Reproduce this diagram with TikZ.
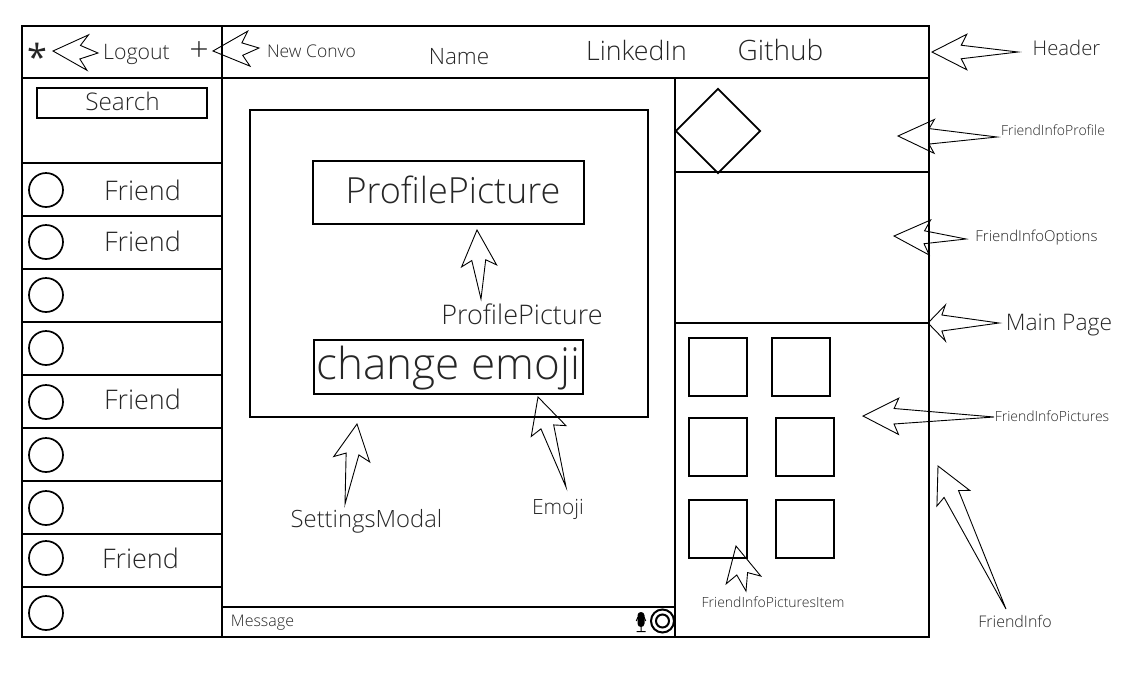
\documentclass[tikz,border=0pt]{standalone}
\usepackage{fontspec}
\setmainfont{Open Sans Light}
\newfontfamily\regularfont{Open Sans}
\usetikzlibrary{shapes.geometric, calc}
\tikzset{
  panel/.style={
    rectangle, draw=black, line width=2pt, inner sep=0pt, outer sep=0pt
  },
  rowbox/.style={panel, minimum width=200, minimum height=53},
  avatar/.style={
    circle, draw=black, line width=1.7pt, minimum size=34, inner sep=0pt
  },
  picbox/.style={panel, minimum width=58, minimum height=58},
  caption/.style={inner sep=0pt, text=black!85},
  friendtext/.style={caption, font=\fontsize{27}{32}\selectfont},
  calloutline/.style={line width=0.9pt, draw=black, line join=miter},
}
\newcommand{\callout}[6]{
  \draw [calloutline] (#1) -- ($(#1)!#3pt!#4:(#2)$) -- ($(#1)!#5pt!#6:(#2)$) -- (#2)
    -- ($(#1)!#5pt!-#6:(#2)$) -- ($(#1)!#3pt!-#4:(#2)$) -- cycle;
}
\begin{document}
\begin{tikzpicture}[x=1pt, y=-1pt]
  \useasboundingbox (0,0) rectangle (1122,673);

  \node (logoutbar) [panel, minimum width=200, minimum height=52] at (122,52) {};
  \node (topbar)    [panel, minimum width=707, minimum height=52] at (575.5,52) {};
  \node (searcharea) [panel, minimum width=200, minimum height=85] at (122,120.5) {};
  \node (searchbox) [panel, minimum width=170, minimum height=30] at (122,103) {};
  \node (searchtext) [caption, font=\fontsize{24.3}{28}\selectfont] at (122.5,101) {Search};

  \node (row1) [rowbox] at (122,189.5) {};
  \node (row2) [rowbox] at (122,242.5) {};
  \node (row3) [rowbox] at (122,295.5) {};
  \node (row4) [rowbox] at (122,348.5) {};
  \node (row5) [rowbox] at (122,401.5) {};
  \node (row6) [rowbox] at (122,454.5) {};
  \node (row7) [rowbox] at (122,507.5) {};
  \node (row8) [rowbox] at (122,560.5) {};
  \node (row9) [rowbox, minimum height=50] at (122,612) {};

  \node (avatar1) [avatar] at (46,190) {};
  \node (avatar2) [avatar] at (46,242) {};
  \node (avatar3) [avatar] at (46,295) {};
  \node (avatar4) [avatar] at (46,348) {};
  \node (avatar5) [avatar] at (46,402) {};
  \node (avatar6) [avatar] at (46,455) {};
  \node (avatar7) [avatar] at (46,508) {};
  \node (avatar8) [avatar] at (46,558) {};
  \node (avatar9) [avatar] at (46,613) {};

  \node (friend1) [friendtext] at (142.5,190) {Friend};
  \node (friend2) [friendtext] at (142.5,241) {Friend};
  \node (friend5) [friendtext] at (142.5,399) {Friend};
  \node (friend8) [friendtext] at (140.5,558) {Friend};

  \node (chatarea)   [panel, minimum width=453, minimum height=529] at (448.5,342.5) {};
  \node (messagebar) [panel, minimum width=453, minimum height=30] at (448.5,622) {};
  \node (modal)      [panel, minimum width=398, minimum height=307] at (449,263.5) {};
  \node (picturebtn) [panel, minimum width=271, minimum height=63] at (448.5,192.5) {};
  \node (picturetext) [caption, font=\fontsize{36}{42}\selectfont] at (453,190) {ProfilePicture};
  \node (emojibtn)   [panel, minimum width=269, minimum height=54] at (448.5,367) {};
  \node (emojitext)  [caption, font=\fontsize{44}{50}\selectfont] at (448.5,368) {change emoji};

  \node (infoprofile)  [panel, minimum width=254, minimum height=94] at (802,125) {};
  \node (infooptions)  [panel, minimum width=254, minimum height=151] at (802,247.5) {};
  \node (infopictures) [panel, minimum width=254, minimum height=314] at (802,480) {};
  \node (infoavatar)   [diamond, draw=black, line width=1.7pt, minimum width=85, minimum height=85, inner sep=0pt] at (718,131) {};

  \node (pic1) [picbox] at (718,367) {};
  \node (pic2) [picbox] at (801,367) {};
  \node (pic3) [picbox] at (718,447) {};
  \node (pic4) [picbox] at (805,447) {};
  \node (pic5) [picbox] at (718,529) {};
  \node (pic6) [picbox] at (805,529) {};

  \node (star) [caption, font=\regularfont\fontsize{36}{40}\selectfont] at (37,57) {*};
  \node (plus) [caption, font=\fontsize{34}{38}\selectfont] at (199,52) {+};
  \node (logout)   [caption, font=\fontsize{21.3}{26}\selectfont] at (136.5,54) {Logout};
  \node (newconvo) [caption, font=\fontsize{17.5}{20}\selectfont] at (311.5,51) {New Convo};
  \node (name)     [caption, font=\fontsize{22.5}{26}\selectfont] at (459,57) {Name};
  \node (linkedin) [caption, font=\fontsize{26.7}{30}\selectfont] at (636.5,50) {LinkedIn};
  \node (github)   [caption, font=\fontsize{28}{32}\selectfont] at (780.5,50) {Github};
  \node (message)  [caption, font=\fontsize{16}{18}\selectfont] at (262.5,623) {Message};

  \node (header)      [caption, font=\fontsize{20.3}{24}\selectfont] at (1066.5,48) {Header};
  \node (profilelbl)  [caption, font=\fontsize{14}{16}\selectfont] at (1053,130) {FriendInfoProfile};
  \node (optionslbl)  [caption, font=\fontsize{15}{17}\selectfont] at (1036.5,238) {FriendInfoOptions};
  \node (mainpage)    [caption, font=\fontsize{22.8}{26}\selectfont] at (1059,325) {Main Page};
  \node (pictureslbl) [caption, font=\fontsize{14}{17}\selectfont] at (1052,416) {FriendInfoPictures};
  \node (itemlbl)     [caption, font=\fontsize{14}{17}\selectfont] at (773,602) {FriendInfoPicturesItem};
  \node (friendinfo)  [caption, font=\fontsize{16}{20}\selectfont] at (1015,621) {FriendInfo};
  \node (picturelbl)  [caption, font=\fontsize{27}{30}\selectfont] at (522,314) {ProfilePicture};
  \node (settingslbl) [caption, font=\fontsize{23.8}{28}\selectfont] at (366.5,521) {SettingsModal};
  \node (emojilbl)    [caption, font=\fontsize{21}{26}\selectfont] at (558,509) {Emoji};

  \node (micbody) [rectangle, fill=black, rounded corners=3.4pt, minimum width=7, minimum height=15, inner sep=0pt] at (641,619.5) {};
  \draw [line width=1pt] (636.3,621) arc [start angle=180, end angle=360, radius=4.7] (641,625.7) -- (641,631) (636.5,631.5) -- (645.5,631.5);
  \node (recordout) [circle, draw=black, line width=2pt, minimum size=23, inner sep=0pt] at (662.5,621) {};
  \node (recordin)  [circle, draw=black, line width=2pt, minimum size=13, inner sep=0pt] at (662.5,621) {};

  \coordinate (logouttip) at (53,51);
  \coordinate (logouttail) at (98,53);
  \coordinate (convotip) at (213,51);
  \coordinate (convotail) at (259,48);
  \coordinate (headertip) at (932,52);
  \coordinate (headertail) at (1018,52);
  \coordinate (profiletip) at (898,136);
  \coordinate (profiletail) at (997,137);
  \coordinate (optionstip) at (894,236);
  \coordinate (optionstail) at (966,239);
  \coordinate (maintip) at (928,323);
  \coordinate (maintail) at (999,323);
  \coordinate (picturestip) at (863,416);
  \coordinate (picturestail) at (994,417);
  \coordinate (infotip) at (938,466);
  \coordinate (infotail) at (1006,609);
  \coordinate (itemtip) at (736,546);
  \coordinate (itemtail) at (746,591);
  \coordinate (picturetip) at (477,230);
  \coordinate (picturetail) at (481,299);
  \coordinate (settingstip) at (357,424);
  \coordinate (settingstail) at (345,504);
  \coordinate (emojitip) at (538,397);
  \coordinate (emojitail) at (566,487);

  \callout{logouttip}{logouttail}{39}{27}{28}{14}
  \callout{convotip}{convotail}{40}{26}{30}{12}
  \callout{headertip}{headertail}{39}{27}{30}{13}
  \callout{profiletip}{profiletail}{40}{25}{32}{14}
  \callout{optionstip}{optionstail}{40}{26}{31}{12}
  \callout{maintip}{maintail}{25}{46}{16}{30}
  \callout{picturestip}{picturestail}{40}{27}{32}{14}
  \callout{infotip}{infotail}{40}{27}{32}{14.5}
  \callout{itemtip}{itemtail}{39}{27}{29}{11}
  \callout{picturetip}{picturetail}{40}{26}{31}{13}
  \callout{settingstip}{settingstail}{40}{27}{31}{12}
  \callout{emojitip}{emojitail}{40}{27}{32}{12}
\end{tikzpicture}
\end{document}
